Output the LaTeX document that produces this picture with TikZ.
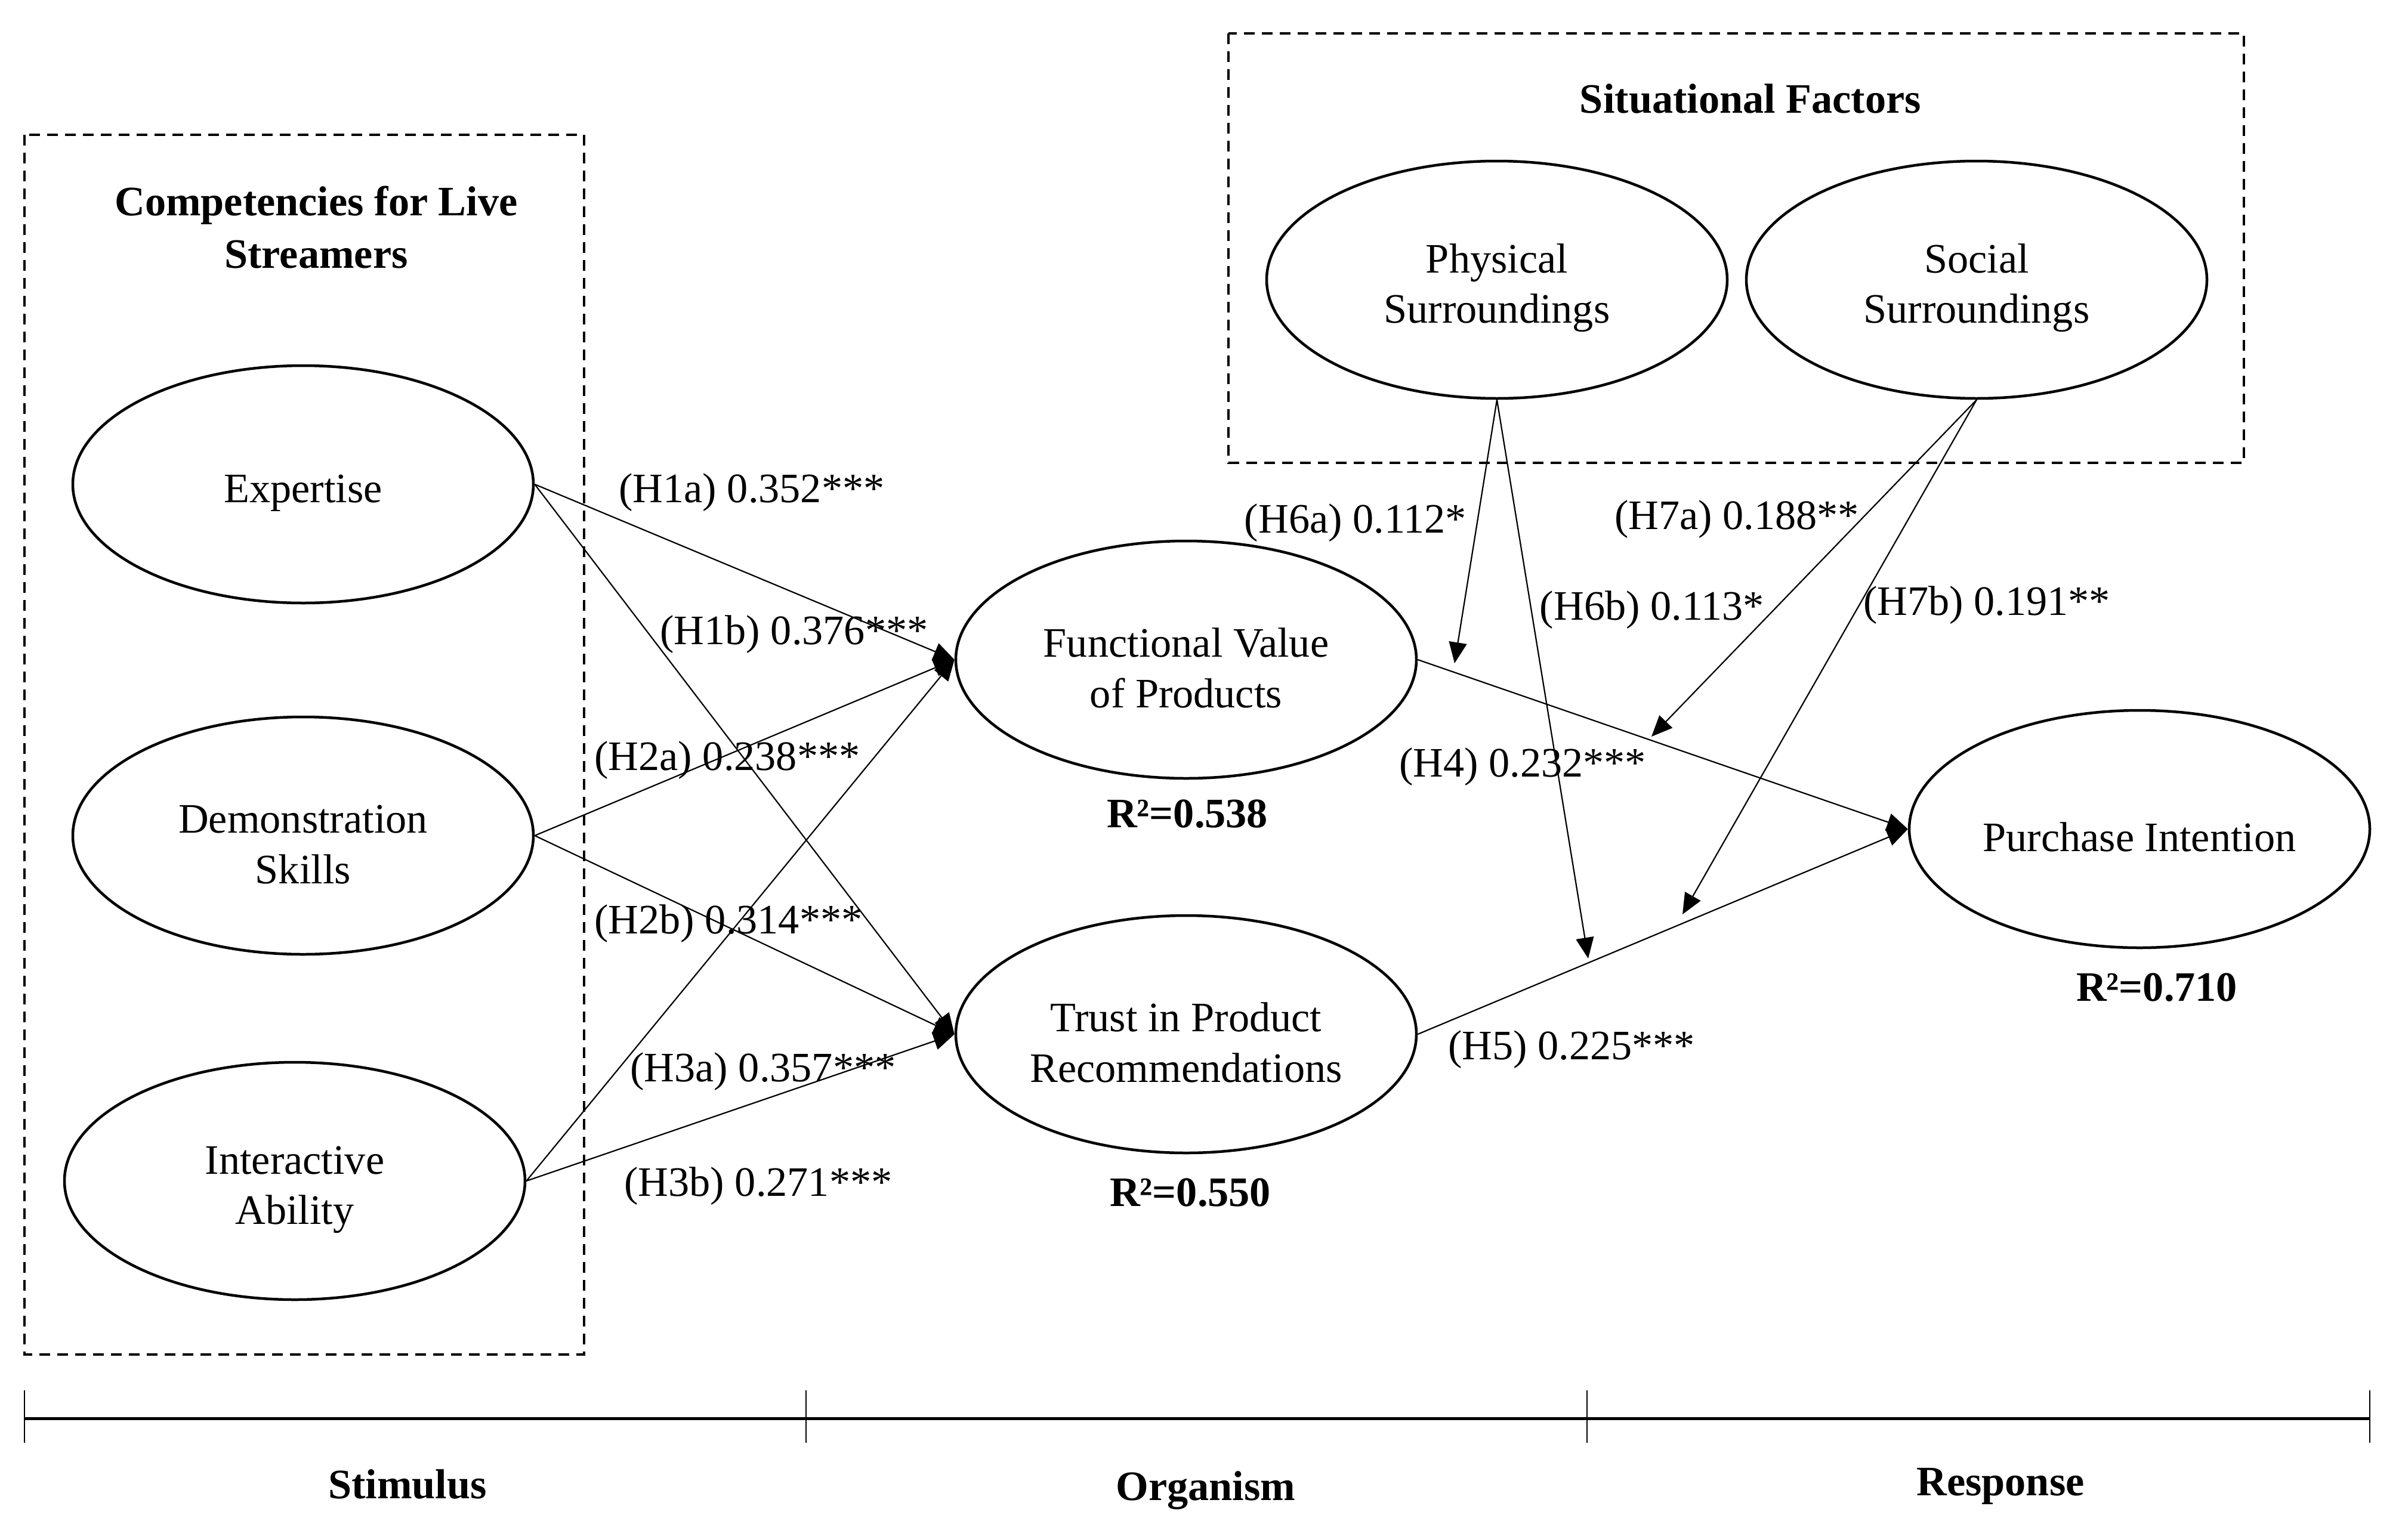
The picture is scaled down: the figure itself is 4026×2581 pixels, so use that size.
\documentclass[tikz,border=0pt]{standalone}
\usepackage{fontspec}
\setmainfont{Liberation Serif}
\usetikzlibrary{arrows.meta,shapes.geometric}
\begin{document}
\begin{tikzpicture}[x=0.1mm,y=-0.1mm,
  every node/.style={font=\fontsize{20}{24}\selectfont},
  latent/.style={ellipse, draw, line width=0.45mm, minimum width=77.2mm, minimum height=39.8mm, inner sep=0pt, align=center, execute at begin node={\rule{0pt}{#1}}},
  latent/.default=7.6mm,
  grp/.style={draw, line width=0.45mm, dash pattern=on 1.8mm off 1.2mm},
  path/.style={line width=0.22mm, -{Triangle[length=3.5mm,width=3mm]}},
  coef/.style={inner sep=0pt, yshift=-0.9mm},
  ttl/.style={font=\fontsize{20}{25}\selectfont\bfseries, align=center, inner sep=0pt},
  axis/.style={line width=0.5mm},
  tick/.style={line width=0.25mm},
]
\useasboundingbox (0,0) rectangle (4026,2581);

% group boxes
\draw[grp] (41,226) rectangle (979,2271);
\draw[grp] (2059,56) rectangle (3761,776);
\node[ttl] (t1) at (530,381) {Competencies for Live\\Streamers};
\node[ttl] (t2) at (2934,166) {Situational Factors};

% constructs
\node[latent] (Exp) at (508,812) {Expertise};
\node[latent=16.1mm] (Demo) at (508,1401) {Demonstration\\Skills};
\node[latent=16.1mm] (Inter) at (494,1980) {Interactive\\Ability};
\node[latent=16.1mm] (FV) at (1988,1106) {Functional Value\\of Products};
\node[latent=16.1mm] (TR) at (1988,1734) {Trust in Product\\Recommendations};
\node[latent] (PI) at (3586,1390) {Purchase Intention};
\node[latent=16.1mm] (PS) at (2509,469) {Physical\\Surroundings};
\node[latent=16.1mm] (SS) at (3313,469) {Social\\Surroundings};

% R2
\node[ttl] (r1) at (1990,1365) {R²=0.538};
\node[ttl] (r2) at (1995,2000) {R²=0.550};
\node[ttl] (r3) at (3615,1656) {R²=0.710};

% paths
\draw[path] (Exp.east) -- (FV.west);
\draw[path] (Exp.east) -- (TR.west);
\draw[path] (Demo.east) -- (FV.west);
\draw[path] (Demo.east) -- (TR.west);
\draw[path] (Inter.east) -- (FV.west);
\draw[path] (Inter.east) -- (TR.west);
\draw[path] (FV.east) -- (PI.west);
\draw[path] (TR.east) -- (PI.west);

% moderators
\coordinate (m6a) at (2438,1112);
\coordinate (m7a) at (2768,1235);
\coordinate (m6b) at (2662,1607);
\coordinate (m7b) at (2820,1533);
\draw[path] (PS.south) -- (m6a);
\draw[path] (PS.south) -- (m6b);
\draw[path] (SS.south) -- (m7a);
\draw[path] (SS.south) -- (m7b);

% coefficients
\node[coef] (l1a) at (1260,817) {(H1a) 0.352***};
\node[coef] (l1b) at (1331,1055) {(H1b) 0.376***};
\node[coef] (l2a) at (1219,1266) {(H2a) 0.238***};
\node[coef] (l2b) at (1221,1540) {(H2b) 0.314***};
\node[coef] (l3a) at (1279,1788) {(H3a) 0.357***};
\node[coef] (l3b) at (1271,1980) {(H3b) 0.271***};
\node[coef] (l4) at (2552,1277) {(H4) 0.232***};
\node[coef] (l5) at (2634,1751) {(H5) 0.225***};
\node[coef] (l6a) at (2272,868) {(H6a) 0.112*};
\node[coef] (l6b) at (2769,1014) {(H6b) 0.113*};
\node[coef] (l7a) at (2911,862) {(H7a) 0.188**};
\node[coef] (l7b) at (3330,1006) {(H7b) 0.191**};

% S-O-R axis
\coordinate (a0) at (41,2378);
\coordinate (a1) at (1351,2378);
\coordinate (a2) at (2660,2378);
\coordinate (a3) at (3972,2378);
\draw[axis] (a0) -- (a3);
\foreach \p in {a0,a1,a2,a3} \draw[tick] ([yshift=4.7mm]\p) -- ([yshift=-4.1mm]\p);
\node[ttl] (s1) at (683,2489) {Stimulus};
\node[ttl] (s2) at (2021,2499) {Organism};
\node[ttl] (s3) at (3353,2492) {Response};
\end{tikzpicture}
\end{document}
